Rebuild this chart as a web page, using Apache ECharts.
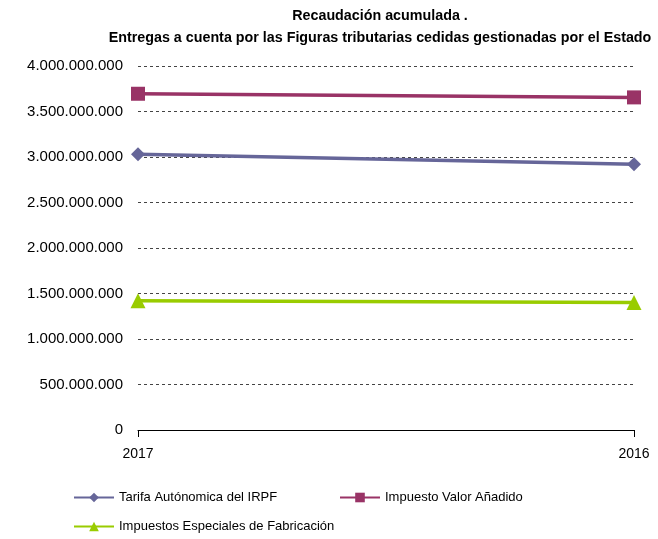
<!DOCTYPE html>
<html>
<head>
<meta charset="utf-8">
<script src="https://cdn.jsdelivr.net/npm/echarts@6/dist/echarts.min.js"></script>
<style>
  html, body { margin: 0; padding: 0; background: #fff; }
  #chart { width: 658px; height: 539px; }
</style>
</head>
<body>
<div id="chart"></div>
<script>
// datos
var years = ['2017', '2016'];
var irpf = [3030000000, 2920000000];
var iva = [3695000000, 3655000000];
var especiales = [1420000000, 1400000000];
var names = ['Tarifa Autónomica del IRPF', 'Impuesto Valor Añadido', 'Impuestos Especiales de Fabricación'];

var chart = echarts.init(document.getElementById('chart'));

function fmt(v) {
  return String(v).replace(/\B(?=(\d{3})+(?!\d))/g, '.');
}

var font = 'Liberation Sans, Arial, sans-serif';
var legendText = { fontSize: 13, color: '#000', fontFamily: font };

chart.setOption({
  animation: false,
  textStyle: { fontFamily: font },
  title: {
    text: 'Recaudación acumulada .\nEntregas a cuenta por las Figuras tributarias cedidas gestionadas por el Estado',
    left: 375,
    top: 0,
    textAlign: 'center',
    textStyle: { fontSize: 14.3, fontWeight: 'bold', color: '#000', fontFamily: font, lineHeight: 22 }
  },
  legend: [
    { left: 73, top: 491, padding: 0, itemWidth: 40, itemHeight: 12, data: [names[0]], textStyle: legendText },
    { left: 339, top: 491, padding: 0, itemWidth: 40, itemHeight: 12, data: [names[1]], textStyle: legendText },
    { left: 73, top: 520, padding: 0, itemWidth: 40, itemHeight: 12, data: [names[2]], textStyle: legendText }
  ],
  grid: { left: 138, right: 24, top: 66, bottom: 109, containLabel: false },
  xAxis: {
    type: 'category',
    data: years,
    boundaryGap: false,
    axisLine: { lineStyle: { color: '#000', width: 1 } },
    axisTick: { show: true, length: 7, lineStyle: { color: '#000' } },
    axisLabel: { fontSize: 14, color: '#000', margin: 17, fontFamily: font },
    splitLine: { show: false }
  },
  yAxis: {
    type: 'value',
    min: 0,
    max: 4000000000,
    interval: 500000000,
    axisLine: { show: false },
    axisTick: { show: false },
    axisLabel: {
      fontSize: 15, color: '#000', margin: 15, fontFamily: font,
      formatter: function (v) { return fmt(v); }
    },
    splitLine: { show: true, lineStyle: { color: '#444', type: [3, 3], width: 1 } }
  },
  series: [
    {
      name: names[0], type: 'line', data: irpf,
      symbol: 'diamond', symbolSize: 14,
      lineStyle: { color: '#666699', width: 3.5 },
      itemStyle: { color: '#666699' }
    },
    {
      name: names[1], type: 'line', data: iva,
      symbol: 'rect', symbolSize: 14,
      lineStyle: { color: '#993366', width: 3.5 },
      itemStyle: { color: '#993366' }
    },
    {
      name: names[2], type: 'line', data: especiales,
      symbol: 'triangle', symbolSize: 15,
      lineStyle: { color: '#99cc00', width: 3.5 },
      itemStyle: { color: '#99cc00' }
    }
  ]
});

window.addEventListener('resize', function () { chart.resize(); });
</script>
</body>
</html>
